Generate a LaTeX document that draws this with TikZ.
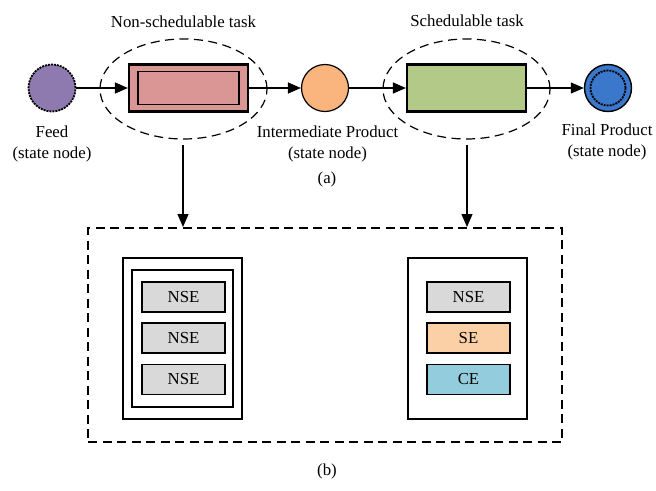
\documentclass[tikz,border=0pt]{standalone}
\usepackage{fontspec}
\setmainfont{Liberation Serif}
\usetikzlibrary{shapes.geometric,arrows.meta}
\definecolor{feedc}{HTML}{8F7AB0}
\definecolor{redc}{HTML}{D99694}
\definecolor{orangec}{HTML}{FAB57E}
\definecolor{greenc}{HTML}{B3C987}
\definecolor{bluec}{HTML}{3B77CB}
\definecolor{greyc}{HTML}{D9D9D9}
\definecolor{sec}{HTML}{FBD0A6}
\definecolor{cec}{HTML}{93CDDD}
\tikzset{
  lbl/.style={font=\fontsize{16.8}{18}\selectfont, inner sep=0pt, anchor=base},
  statenode/.style={circle, inner sep=0pt, minimum size=47pt},
  taskell/.style={ellipse, draw, dash pattern=on 9pt off 5.5pt, line width=1.2pt, minimum width=167pt, minimum height=100pt, inner sep=0pt},
  taskbox/.style={draw, line width=2.2pt, minimum width=119pt, minimum height=47pt, inner sep=0pt},
  elem/.style={draw, line width=1.3pt, minimum width=83pt, minimum height=30pt, inner sep=0pt, font=\fontsize{16.8}{18}\selectfont},
  conn/.style={line width=1.3pt, -{Triangle[length=13pt,width=11pt]}},
}
\begin{document}
\begin{tikzpicture}[x=1pt,y=-1pt]
\useasboundingbox (0,0) rectangle (656,490);
% ellipses
\node[taskell] (e1) at (183.5,89) {};
\node[taskell] (e2) at (466.5,89) {};
% state nodes
\node[statenode, fill=feedc, draw, line width=1.8pt, dash pattern=on 2pt off 1pt] (feed) at (52,88) {};
\node[statenode, fill=orangec, draw, line width=1.2pt] (inter) at (325,88) {};
\node[statenode, fill=bluec, draw, line width=1.4pt] (final) at (608,88) {};
\node[circle, inner sep=0pt, minimum size=35pt, draw, line width=1.8pt, dash pattern=on 2pt off 1pt] (finalin) at (608,88) {};
% tasks
\node[taskbox, fill=redc] (t1) at (188.5,88) {};
\node[draw, line width=1.6pt, minimum width=101pt, minimum height=33pt, inner sep=0pt] (t1in) at (t1) {};
\node[taskbox, fill=greenc] (t2) at (466.5,88) {};
% connectors
\draw[conn] (feed) -- (t1);
\draw[conn] (t1) -- (inter);
\draw[conn] (inter) -- (t2);
\draw[conn] (t2) -- (final);
% labels
\node[lbl] (l1) at (183.5,27) {Non-schedulable task};
\node[lbl] (l2) at (467,26) {Schedulable task};
\node[lbl] (lf1) at (52,137) {Feed};
\node[lbl] (lf2) at (52,158) {(state node)};
\node[lbl] (li1) at (327.5,137) {Intermediate Product};
\node[lbl] (li2) at (327.5,158) {(state node)};
\node[lbl] (la) at (327,183) {(a)};
\node[lbl] (lp1) at (607,135) {Final Product};
\node[lbl] (lp2) at (607,156) {(state node)};
\node[lbl] (lb) at (327,475) {(b)};
% bottom panel
\node[draw, dash pattern=on 9pt off 5.5pt, line width=1.2pt, minimum width=474pt, minimum height=214pt, inner sep=0pt] (panel) at (325,335) {};
\coordinate (d1) at (183,145);
\coordinate (d2) at (467,145);
\coordinate (p1) at (183,227);
\coordinate (p2) at (467,227);
\draw[conn] (d1) -- (p1);
\draw[conn] (d2) -- (p2);
% left equipment
\node[draw, line width=2.2pt, minimum width=119pt, minimum height=161pt, inner sep=0pt] (u1) at (182.5,338.5) {};
\node[draw, line width=1.3pt, minimum width=101pt, minimum height=137pt, inner sep=0pt] (u1in) at (182.5,338.5) {};
\node[elem, fill=greyc] (n1) at (183.5,297) {NSE};
\node[elem, fill=greyc] (n2) at (183.5,338) {NSE};
\node[elem, fill=greyc] (n3) at (183.5,379.5) {NSE};
% right equipment
\node[draw, line width=2.2pt, minimum width=119pt, minimum height=161pt, inner sep=0pt] (u2) at (467.5,338.5) {};
\node[elem, fill=greyc] (m1) at (468.5,297) {NSE};
\node[elem, fill=sec] (m2) at (468.5,338) {SE};
\node[elem, fill=cec] (m3) at (468.5,379.5) {CE};
\end{tikzpicture}
\end{document}
